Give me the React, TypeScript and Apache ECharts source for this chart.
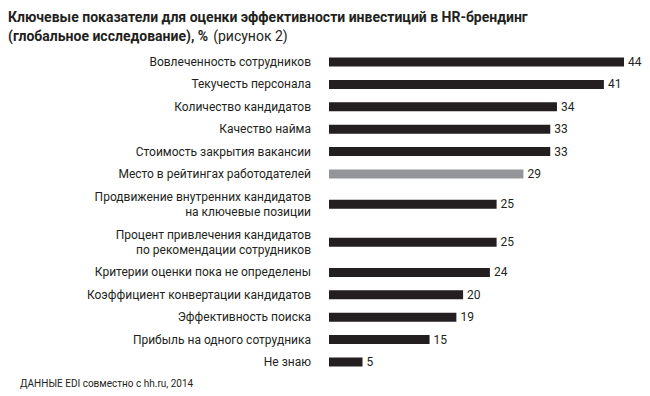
import React, { useEffect, useRef } from "react";
import * as echarts from "echarts";

const categories = [
  "Вовлеченность сотрудников",
  "Текучесть персонала",
  "Количество кандидатов",
  "Качество найма",
  "Стоимость закрытия вакансии",
  "Место в рейтингах работодателей",
  "Продвижение внутренних кандидатов\nна ключевые позиции",
  "Процент привлечения кандидатов\nпо рекомендации сотрудников",
  "Критерии оценки пока не определены",
  "Коэффициент конвертации кандидатов",
  "Эффективность поиска",
  "Прибыль на одного сотрудника",
  "Не знаю",
];
const values = [44, 41, 34, 33, 33, 29, 25, 25, 24, 20, 19, 15, 5];
const highlightedIndex = 5;

const titleLine1 = "Ключевые показатели для оценки эффективности инвестиций в HR-брендинг";
const titleLine2 = "(глобальное исследование), %";
const titleNote = "(рисунок 2)";
const sourceText = "ДАННЫЕ EDI совместно с hh.ru, 2014";

const FONT = "Roboto, 'Noto Sans', sans-serif";
const DARK = "#231f20";
const GREY = "#939598";

// row slot heights (in axis units) derived from the number of label lines
const rowHeights = categories.map((c) => (c.split("\n").length > 1 ? 1.7 : 1));
const rowPositions: number[] = [];
{
  let acc = 0;
  rowHeights.forEach((h) => {
    rowPositions.push(acc + h / 2);
    acc += h;
  });
}
const totalRows = rowHeights.reduce((a, b) => a + b, 0);

export default function App() {
  const ref = useRef<HTMLDivElement>(null);
  useEffect(() => {
    if (!ref.current) return;
    const chart = echarts.init(ref.current, undefined, { renderer: "svg" });
    const data = values.map((v, i) => [v, rowPositions[i], i]);
    chart.setOption({
      animation: false,
      backgroundColor: "#ffffff",
      title: {
        left: 3,
        top: 2,
        text: `{b|${titleLine1}}\n{b|${titleLine2}} {r|${titleNote}}`,
        textStyle: {
          rich: {
            b: { fontFamily: FONT, fontWeight: "bold", fontSize: 14, color: DARK, lineHeight: 19 },
            r: { fontFamily: FONT, fontWeight: "normal", fontSize: 14, color: DARK, lineHeight: 19 },
          },
        },
      },
      grid: { left: 329, right: 26, top: 50.8, bottom: 22.8 },
      xAxis: { type: "value", min: 0, max: 44, show: false },
      yAxis: { type: "value", min: 0, max: totalRows, inverse: true, show: false },
      graphic: [
        {
          type: "text",
          left: 20,
          top: 378,
          style: { text: sourceText, font: `10px ${FONT}`, fill: DARK },
        },
      ],
      series: [
        {
          type: "custom",
          data,
          renderItem: (params: any, api: any) => {
            const v = api.value(0);
            const p = api.value(1);
            const i = api.value(2);
            const start = api.coord([0, p]);
            const end = api.coord([v, p]);
            const h = 9;
            return {
              type: "group",
              children: [
                {
                  type: "rect",
                  shape: { x: start[0], y: start[1] - h / 2, width: end[0] - start[0], height: h },
                  style: { fill: i === highlightedIndex ? GREY : DARK },
                },
                {
                  type: "text",
                  x: end[0] + 4,
                  y: end[1],
                  style: {
                    text: String(v),
                    fill: DARK,
                    font: `12px ${FONT}`,
                    align: "left",
                    verticalAlign: "middle",
                  },
                },
                {
                  type: "text",
                  x: start[0] - 18,
                  y: start[1],
                  style: {
                    text: categories[i],
                    fill: DARK,
                    font: `12px ${FONT}`,
                    align: "right",
                    verticalAlign: "middle",
                    lineHeight: 15,
                  },
                },
              ],
            };
          },
        },
      ],
    });
    return () => chart.dispose();
  }, []);
  return (
    <div
      ref={ref}
      style={{ position: "absolute", left: 0, top: 0, width: 650, height: 396 }}
    />
  );
}
